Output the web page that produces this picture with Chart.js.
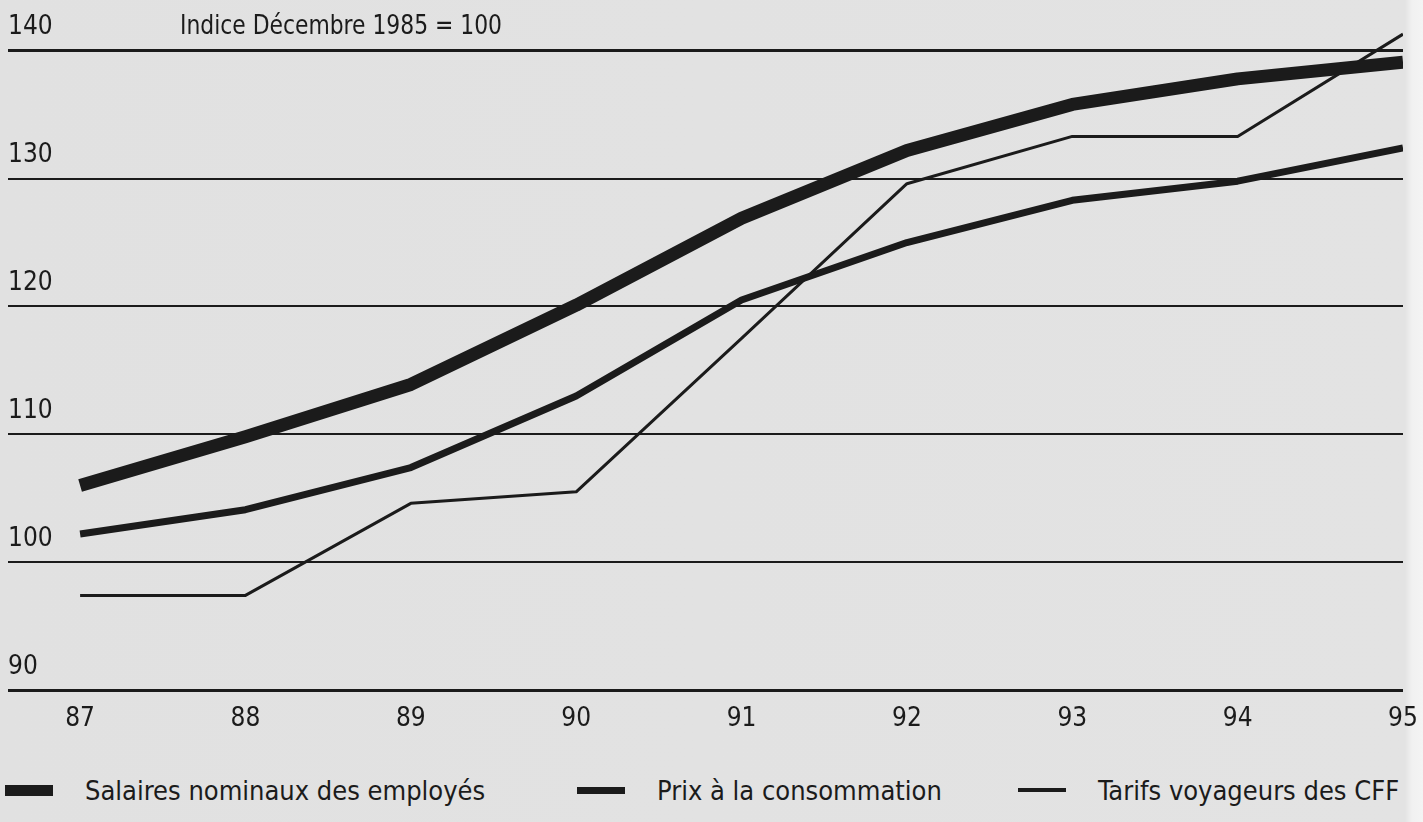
<!DOCTYPE html>
<html lang="fr">
<head>
<meta charset="utf-8">
<title>Indice Décembre 1985 = 100</title>
<script src="https://cdn.jsdelivr.net/npm/chart.js@4/dist/chart.umd.min.js"></script>
<style>
  html, body { margin: 0; padding: 0; }
  body {
    width: 1423px; height: 822px; overflow: hidden; position: relative;
    background: linear-gradient(to right, #e1e1e1 0, #e3e3e3 1405px, #f1f1f1 1412px, #f4f4f4 100%);
    font-family: "Liberation Sans Narrow", "DejaVu Sans Condensed", sans-serif;
    color: #1b1b1b;
  }
  #wrap { position: absolute; left: 0; top: 0; width: 1423px; height: 770px; }
  #note { position: absolute; left: 180px; top: 9px; font-size: 27px; transform: scaleX(0.9); transform-origin: left center; }
  #legend { position: absolute; left: 0; top: 772px; width: 1423px; height: 40px; }
  .item { position: absolute; top: 0; display: flex; align-items: center; height: 36px; font-size: 27px; }
  .item i { display: inline-block; width: 48px; background: #1b1b1b; margin-right: 32px; }
</style>
</head>
<body>
<div id="wrap"><canvas id="chart"></canvas></div>
<div id="note">Indice Décembre 1985 = 100</div>
<div id="legend"></div>

<script>
// valeurs (indice déc. 1985 = 100)
const years    = [87, 88, 89, 90, 91, 92, 93, 94, 95];
const salaires = [106.0, 109.8, 113.9, 120.1, 126.9, 132.2, 135.8, 137.8, 139.1];
const prix     = [102.2, 104.1, 107.4, 113.0, 120.5, 125.0, 128.3, 129.8, 132.4];
const tarifs   = [97.4, 97.4, 104.6, 105.5, 117.5, 129.6, 133.3, 133.3, 141.3];
const yTicks   = [90, 100, 110, 120, 130, 140];

const INK = '#1b1b1b';
const SERIES = [
  { label: 'Salaires nominaux des employés', data: salaires, width: 13, box: 11, left: 5 },
  { label: 'Prix à la consommation',         data: prix,     width: 7,  box: 7,  left: 577 },
  { label: 'Tarifs voyageurs des CFF',       data: tarifs,   width: 3,  box: 4,  left: 1018 },
];

Chart.defaults.font.family = '"Liberation Sans Narrow", "DejaVu Sans Condensed", sans-serif';
Chart.defaults.color = INK;

// pas de marge automatique autour des axes : la zone du graphique est fixée par layout.padding
const noPad = (s) => { s.paddingTop = 0; s.paddingBottom = 0; s.paddingLeft = 0; s.paddingRight = 0; };

const ctx = document.getElementById('chart').getContext('2d');
new Chart(ctx, {
  type: 'line',
  data: {
    datasets: SERIES.map((s) => ({
      label: s.label,
      data: years.map((x, i) => ({ x, y: s.data[i] })),
      borderColor: INK,
      borderWidth: s.width,
      borderJoinStyle: 'round',
      pointRadius: 0,
      tension: 0,
      fill: false,
    })),
  },
  options: {
    responsive: true, maintainAspectRatio: false, animation: false,
    layout: { padding: { left: 8, right: 20, top: 6, bottom: 40 } },
    plugins: { legend: { display: false }, tooltip: { enabled: false } },
    scales: {
      x: {
        type: 'linear', min: 86.564, max: 95,
        afterBuildTicks: (s) => { s.ticks = years.map((v) => ({ value: v })); },
        afterFit: (s) => { s.height = 40; noPad(s); },
        grid: { display: false, drawTicks: false },
        border: { display: false },
        ticks: { padding: 14, font: { size: 26 }, maxRotation: 0, autoSkip: false },
      },
      y: {
        min: 90, max: 143.5,
        afterBuildTicks: (s) => { s.ticks = yTicks.map((v) => ({ value: v })); },
        afterFit: (s) => { s.width = 0; noPad(s); },
        border: { display: false },
        grid: {
          color: INK, drawTicks: false,
          lineWidth: (c) => (c.tick && (c.tick.value === 140 || c.tick.value === 90) ? 3 : 2),
        },
        ticks: { mirror: true, padding: 0, labelOffset: -23, font: { size: 26 } },
      },
    },
  },
});

// légende en HTML
document.getElementById('legend').innerHTML = SERIES.map((s) =>
  `<div class="item" style="left:${s.left}px"><i style="height:${s.box}px"></i>${s.label}</div>`).join('');
</script>
</body>
</html>
